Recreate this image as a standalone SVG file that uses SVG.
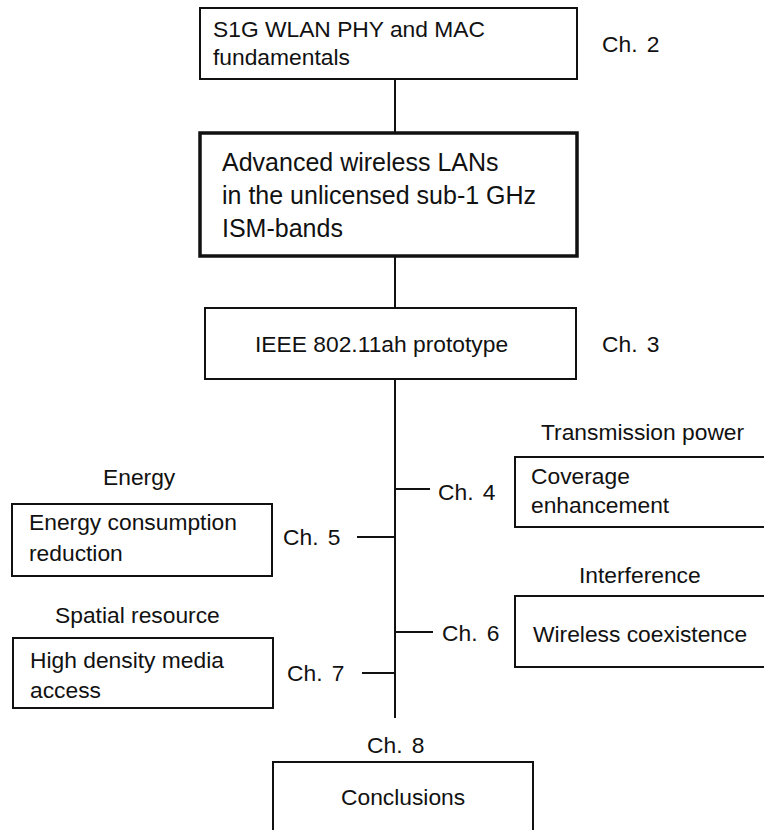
<svg xmlns="http://www.w3.org/2000/svg" width="764" height="830" viewBox="0 0 764 830">
<style>
text{font-family:"Liberation Sans",Arial,sans-serif;font-size:22.8px;fill:#111}
.big{font-size:25px}
.ch{word-spacing:3px}
.box{fill:#fff;stroke:#111;stroke-width:2}
.thick{fill:#fff;stroke:#111;stroke-width:3.5}
.ln{stroke:#111;stroke-width:2;fill:none}
</style>
<rect width="764" height="830" fill="#fff"/>
<g id="connectors">
<line class="ln" x1="395" y1="79" x2="395" y2="133"/>
<line class="ln" x1="395" y1="256" x2="395" y2="308"/>
<line class="ln" x1="395" y1="379" x2="395" y2="718"/>
<line class="ln" x1="395" y1="489" x2="430" y2="489"/>
<line class="ln" x1="357" y1="537" x2="395" y2="537"/>
<line class="ln" x1="395" y1="632" x2="433" y2="632"/>
<line class="ln" x1="362" y1="673" x2="395" y2="673"/>
</g>
<g id="n-fund">
<rect class="box" x="200" y="8" width="377" height="71"/>
<text x="213" y="37">S1G WLAN PHY and MAC</text>
<text x="213" y="65">fundamentals</text>
</g>
<text class="ch" x="602" y="52">Ch. 2</text>
<g id="n-main">
<rect class="thick" x="200" y="133" width="377" height="123"/>
<text class="big" x="222" y="171">Advanced wireless LANs</text>
<text class="big" x="222" y="204">in the unlicensed sub-1 GHz</text>
<text class="big" x="222" y="237">ISM-bands</text>
</g>
<g id="n-proto">
<rect class="box" x="205" y="308" width="371" height="71"/>
<text x="255" y="352">IEEE 802.11ah prototype</text>
</g>
<text class="ch" x="602" y="352">Ch. 3</text>
<g id="n-cov">
<text x="541" y="440">Transmission power</text>
<rect class="box" x="515" y="457" width="270" height="70"/>
<text x="531" y="484">Coverage</text>
<text x="531" y="513">enhancement</text>
</g>
<text class="ch" x="438" y="500">Ch. 4</text>
<g id="n-energy">
<text x="103" y="485">Energy</text>
<rect class="box" x="12" y="504" width="260" height="72"/>
<text x="29" y="530">Energy consumption</text>
<text x="29" y="561">reduction</text>
</g>
<text class="ch" x="283" y="545">Ch. 5</text>
<g id="n-coex">
<text x="579" y="583">Interference</text>
<rect class="box" x="515" y="596" width="270" height="71"/>
<text x="533" y="642">Wireless coexistence</text>
</g>
<text class="ch" x="442" y="641">Ch. 6</text>
<g id="n-dense">
<text x="55" y="623">Spatial resource</text>
<rect class="box" x="13" y="638" width="260" height="70"/>
<text x="30" y="668">High density media</text>
<text x="30" y="698">access</text>
</g>
<text class="ch" x="287" y="681">Ch. 7</text>
<g id="n-concl">
<text class="ch" x="367" y="753">Ch. 8</text>
<rect class="box" x="273" y="762" width="260" height="90"/>
<text x="341" y="805">Conclusions</text>
</g>
</svg>
